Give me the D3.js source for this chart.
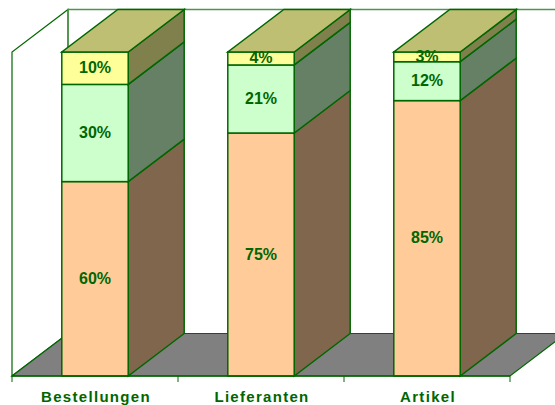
<!DOCTYPE html>
<html>
<head>
<meta charset="utf-8">
<script src="https://cdn.jsdelivr.net/npm/d3@7"></script>
<style>
  html, body { margin: 0; padding: 0; background: #fff; overflow: hidden; }
  text { font-family: "Liberation Sans", Arial, sans-serif; font-weight: bold; fill: #006600; }
</style>
</head>
<body>
<div id="chart"></div>
<script>
// values
var categories = ["Bestellungen", "Lieferanten", "Artikel"];
var seriesA = [60, 75, 85];
var seriesB = [30, 21, 12];
var seriesC = [10, 4, 3];

var seriesColors = ["#ffcc99", "#ccffcc", "#ffff99"];
var sideColors = ["#80664d", "#668066", "#80804d"];
var topColor = "#bfbf73";
var lineColor = "#006600";

var width = 555, height = 405;
var depthX = 56, depthY = -42.5;   // offset of the back plane

var x = d3.scaleBand().domain(categories).range([12, 510]).paddingInner(0.6).paddingOuter(0.3);
var step = x.step();
var y = d3.scaleLinear().domain([0, 100]).range([376, 52]);

var svg = d3.select("#chart").append("svg")
    .attr("width", width)
    .attr("height", height)
    .style("display", "block");

function poly(points) {
  return points.map(function(p) { return p[0] + "," + p[1]; }).join(" ");
}

var x0 = x.range()[0], x1 = x.range()[1];

// left wall
svg.append("polygon")
    .attr("points", poly([[x0, y(0)], [x0, y(100)], [x0 + depthX, y(100) + depthY], [x0 + depthX, y(0) + depthY]]))
    .attr("fill", "#fff")
    .attr("stroke", lineColor)
    .attr("stroke-width", 1.2);

// back wall
svg.append("polyline")
    .attr("points", poly([[x0 + depthX, y(0) + depthY], [x0 + depthX, y(100) + depthY], [x1 + depthX, y(100) + depthY]]))
    .attr("fill", "none")
    .attr("stroke", "#4d944d")
    .attr("stroke-width", 1.5);

// floor
svg.append("polygon")
    .attr("points", poly([[x0, y(0)], [x1, y(0)], [x1 + depthX, y(0) + depthY], [x0 + depthX, y(0) + depthY]]))
    .attr("fill", "#808080")
    .attr("stroke", lineColor)
    .attr("stroke-width", 1.2);

// stack the series, then draw each column front, side and top
var rows = categories.map(function(c, i) {
  return {cat: c, a: seriesA[i], b: seriesB[i], c: seriesC[i]};
});
var stacked = d3.stack().keys(["a", "b", "c"])(rows);

var bw = x.bandwidth();

stacked.forEach(function(layer, s) {
  var g = svg.append("g");
  layer.forEach(function(d) {
    var left = x(d.data.cat), right = left + bw;
    var yLow = y(d[0]), yHigh = y(d[1]);

    g.append("polygon")
        .attr("points", poly([[right, yLow], [right, yHigh], [right + depthX, yHigh + depthY], [right + depthX, yLow + depthY]]))
        .attr("fill", sideColors[s])
        .attr("stroke", lineColor)
        .attr("stroke-width", 1.5);

    g.append("rect")
        .attr("x", left)
        .attr("y", yHigh)
        .attr("width", bw)
        .attr("height", yLow - yHigh)
        .attr("fill", seriesColors[s])
        .attr("stroke", lineColor)
        .attr("stroke-width", 1.5);

    if (s == 2) {
      g.append("polygon")
          .attr("points", poly([[left, yHigh], [right, yHigh], [right + depthX, yHigh + depthY], [left + depthX, yHigh + depthY]]))
          .attr("fill", topColor)
          .attr("stroke", lineColor)
          .attr("stroke-width", 1.5);
    }
  });
});

// value labels go on top of everything
stacked.forEach(function(layer) {
  svg.append("g").selectAll("text")
    .data(layer)
    .enter()
    .append("text")
      .attr("x", function(d) { return x(d.data.cat) + bw / 2; })
      .attr("y", function(d) { return (y(d[0]) + y(d[1])) / 2 + 5; })
      .attr("text-anchor", "middle")
      .style("font-size", "16px")
      .text(function(d) { return (d[1] - d[0]) + "%"; });
});

// axis line and ticks on the category edges
svg.append("line")
    .attr("x1", x0).attr("x2", x1)
    .attr("y1", y(0)).attr("y2", y(0))
    .attr("stroke", lineColor)
    .attr("stroke-width", 1.5);

svg.append("g").selectAll("line")
    .data(d3.range(categories.length + 1))
    .enter()
    .append("line")
      .attr("x1", function(i) { return x0 + i * step; })
      .attr("x2", function(i) { return x0 + i * step; })
      .attr("y1", y(0))
      .attr("y2", y(0) + 6)
      .attr("stroke", lineColor);

svg.append("g").selectAll("text")
    .data(categories)
    .enter()
    .append("text")
      .attr("x", function(d) { return x(d) + bw / 2 + 1; })
      .attr("y", 402)
      .attr("text-anchor", "middle")
      .style("font-size", "15px")
      .style("letter-spacing", "1.3px")
      .text(function(d) { return d; });
</script>
</body>
</html>
